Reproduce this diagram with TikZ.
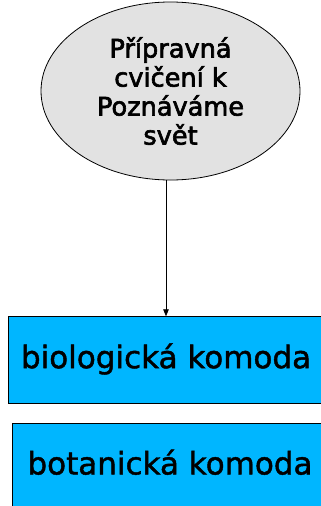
\documentclass[tikz,border=0pt]{standalone}
\usepackage{fontspec}
\setmainfont{DejaVu Sans}
\newfontfamily\bubblefont[FakeBold=2.4]{DejaVu Sans}
\newfontfamily\boxfont[FakeBold=1.4]{DejaVu Sans}
\usetikzlibrary{shapes.geometric,arrows.meta}
\definecolor{boxblue}{RGB}{0,182,255}
\definecolor{marble}{RGB}{226,226,226}
\tikzset{
  bubble/.style={ellipse,draw=black,line width=0.8pt,fill=marble,inner sep=0pt,
    minimum width=259pt,minimum height=178pt,align=center,
    font=\bubblefont\fontsize{25.6pt}{29pt}\selectfont},
  bluebox/.style={rectangle,draw=black,line width=0.8pt,fill=boxblue,inner sep=0pt,
    minimum height=86.6pt,text height=23.7pt,text depth=7.4pt,
    font=\boxfont\fontsize{31pt}{36pt}\selectfont},
  link/.style={line width=0.8pt,-{Triangle[length=7pt,width=5.5pt]}}
}
\begin{document}
\begin{tikzpicture}[x=1pt,y=-1pt]
\useasboundingbox (0,0) rectangle (321,506);
\clip (0,0) rectangle (321,506);
\node[bubble] (ell) at (170.5,91) {Přípravná\\cvičení k\\Poznáváme\\svět};
\node[bluebox,minimum width=315.4pt] (box1) at (166,360) {biologická komoda};
\node[bluebox,minimum width=315.4pt] (box2) at (170,466.3) {botanická komoda};
\coordinate (ax) at (166,0);
\draw[link] (ell.south -| ax) -- (box1.north -| ax);
\end{tikzpicture}
\end{document}
